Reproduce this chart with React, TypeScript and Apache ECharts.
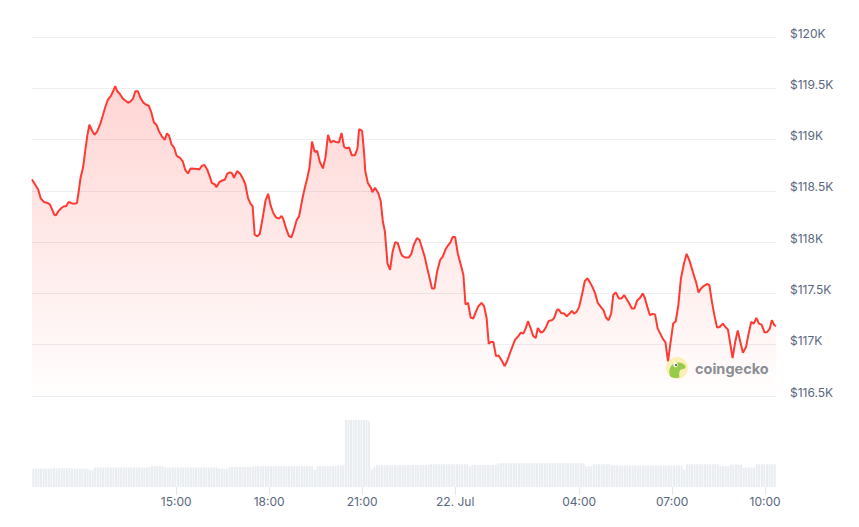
import React, { useEffect, useRef } from "react";
import * as echarts from "echarts";

// Price: minutes after the axis start (21 Jul, 10:21), 24 h window, USD
const priceMinutes = [
  0, 6, 12, 17, 23, 30, 35, 39, 43, 46, 52, 57, 62, 66, 71, 76, 81, 87, 90, 94, 99, 103, 107, 111, 116, 121, 126, 132, 137, 142,
  147, 153, 157, 161, 165, 170, 176, 181, 186, 191, 196, 200, 205, 210, 215, 221, 226, 231, 236, 241, 246, 252, 257, 261, 265,
  270, 275, 280, 286, 292, 297, 302, 307, 314, 320, 324, 329, 334, 339, 345, 348, 354, 357, 363, 368, 373, 378, 383, 387, 391,
  397, 403, 408, 413, 418, 423, 427, 431, 436, 441, 447, 452, 457, 462, 467, 472, 478, 483, 486, 492, 497, 502, 507, 512, 517,
  523, 528, 533, 537, 542, 547, 552, 557, 563, 568, 573, 578, 583, 588, 594, 599, 604, 609, 614, 619, 625, 630, 633, 639, 643,
  645, 650, 656, 659, 664, 670, 675, 679, 683, 688, 693, 698, 703, 708, 714, 717, 722, 729, 734, 739, 745, 750, 755, 760, 765,
  770, 774, 779, 784, 790, 795, 800, 805, 810, 814, 819, 824, 830, 835, 839, 844, 849, 854, 859, 864, 870, 875, 880, 884, 888,
  893, 898, 903, 908, 915, 920, 925, 930, 935, 941, 946, 951, 956, 960, 965, 970, 975, 979, 985, 990, 995, 1000, 1006, 1010,
  1016, 1019, 1024, 1030, 1035, 1040, 1045, 1049, 1054, 1059, 1065, 1070, 1075, 1080, 1085, 1090, 1095, 1101, 1106, 1111, 1116,
  1121, 1125, 1130, 1136, 1141, 1146, 1151, 1156, 1161, 1166, 1171, 1177, 1182, 1186, 1191, 1196, 1201, 1206, 1211, 1217, 1222,
  1226, 1231, 1236, 1241, 1246, 1251, 1256, 1262, 1267, 1272, 1277, 1282, 1286, 1290, 1295, 1300, 1306, 1311, 1316, 1321, 1326,
  1331, 1337, 1342, 1347, 1351, 1356, 1361, 1366, 1371, 1376, 1382, 1387, 1392, 1397, 1402, 1407, 1412, 1418, 1423, 1428, 1432,
  1437, 1440,
];
const priceValues = [
  118611, 118562, 118513, 118425, 118392, 118382, 118366, 118317, 118268, 118261, 118307, 118333, 118350, 118350, 118392, 118382,
  118373, 118382, 118480, 118627, 118732, 118889, 119036, 119144, 119091, 119046, 119078, 119150, 119232, 119320, 119389, 119428,
  119471, 119520, 119471, 119444, 119399, 119379, 119359, 119372, 119405, 119471, 119471, 119405, 119363, 119340, 119330, 119265,
  119167, 119144, 119078, 119026, 118997, 119059, 119042, 118954, 118922, 118840, 118824, 118784, 118699, 118670, 118719, 118716,
  118712, 118709, 118745, 118752, 118709, 118627, 118578, 118562, 118536, 118588, 118601, 118608, 118667, 118680, 118673, 118627,
  118693, 118667, 118621, 118562, 118431, 118373, 118350, 118072, 118056, 118082, 118252, 118406, 118471, 118356, 118284, 118242,
  118229, 118255, 118229, 118131, 118062, 118046, 118121, 118212, 118252, 118415, 118529, 118627, 118725, 118980, 118882, 118889,
  118784, 118719, 118824, 119046, 118971, 118987, 118977, 118971, 119065, 118928, 118915, 118922, 118846, 118846, 118915, 119101,
  119085, 118856, 118693, 118578, 118529, 118487, 118529, 118480, 118399, 118203, 118105, 117794, 117729, 117908, 118000, 117990,
  117892, 117866, 117850, 117850, 117882, 117974, 118039, 118023, 117941, 117859, 117745, 117640, 117549, 117549, 117712, 117827,
  117859, 117925, 117967, 117997, 118049, 118049, 117892, 117778, 117680, 117392, 117408, 117265, 117255, 117320, 117376, 117408,
  117376, 117255, 117010, 117026, 117026, 116889, 116895, 116856, 116791, 116846, 116918, 116984, 117049, 117082, 117118, 117108,
  117167, 117229, 117163, 117085, 117065, 117163, 117118, 117131, 117173, 117232, 117239, 117255, 117337, 117346, 117310, 117304,
  117278, 117301, 117330, 117304, 117320, 117369, 117500, 117621, 117647, 117608, 117559, 117500, 117408, 117369, 117337, 117265,
  117239, 117304, 117484, 117510, 117451, 117451, 117484, 117444, 117402, 117353, 117353, 117428, 117458, 117500, 117458, 117369,
  117288, 117301, 117294, 117157, 117098, 117049, 117026, 116837, 117026, 117206, 117229, 117386, 117647, 117794, 117886, 117827,
  117745, 117663, 117598, 117510, 117549, 117572, 117592, 117582, 117418, 117281, 117167, 117173, 117206, 117173, 117147, 117026,
  116869, 117026, 117140, 117026, 116922, 116977, 117108, 117222, 117206, 117261, 117206, 117196, 117118, 117124, 117157, 117239,
  117190, 117180,
];

// 24h trading volume, $B, one bar per 5 minutes
const volumeValues = [
  55, 55, 55, 55, 55, 55, 55, 55, 56, 56, 56, 56, 56, 56, 56, 55, 55, 55, 55, 55, 55, 55, 51, 51,
  58, 58, 58, 58, 58, 58, 58, 58, 58, 58, 58, 58, 58, 58, 58, 58, 58, 58, 58, 58, 58, 58, 62, 62,
  62, 62, 62, 58, 58, 58, 58, 58, 58, 58, 58, 58, 58, 58, 58, 58, 58, 58, 58, 58, 58, 58, 58, 58,
  55, 55, 55, 55, 60, 60, 60, 60, 60, 60, 60, 60, 60, 60, 62, 62, 62, 62, 62, 62, 62, 62, 62, 62,
  62, 62, 62, 62, 62, 62, 62, 62, 62, 62, 62, 62, 62, 52, 62, 62, 62, 62, 62, 62, 62, 62, 65, 65,
  65, 200, 200, 200, 200, 200, 200, 200, 200, 200, 196, 52, 60, 65, 65, 65, 65, 65, 65, 65, 65, 65, 65, 65,
  66, 66, 66, 66, 66, 66, 66, 66, 66, 66, 68, 68, 68, 68, 68, 68, 68, 68, 68, 68, 68, 68, 68, 68,
  68, 62, 66, 66, 66, 66, 66, 66, 66, 66, 66, 66, 71, 71, 71, 71, 71, 71, 71, 71, 71, 71, 71, 71,
  71, 71, 71, 71, 71, 71, 71, 71, 71, 71, 71, 71, 71, 71, 71, 71, 71, 71, 71, 71, 71, 71, 62, 62,
  62, 68, 68, 68, 68, 68, 68, 68, 65, 65, 65, 64, 64, 64, 64, 64, 64, 64, 64, 64, 64, 64, 64, 64,
  64, 64, 64, 64, 64, 64, 64, 64, 64, 64, 64, 64, 52, 68, 68, 68, 68, 68, 68, 68, 68, 68, 68, 68,
  68, 68, 62, 62, 62, 62, 67, 67, 67, 67, 67, 58, 58, 58, 58, 58, 68, 68, 68, 68, 68, 68, 68, 68,
];

// x-axis ticks (minutes after axis start) and their labels
const tickMinutes = [279, 459, 639, 819, 1059, 1239, 1419];
const tickLabels = ["15:00", "18:00", "21:00", "22. Jul", "04:00", "07:00", "10:00"];

const priceMin = 116500;
const priceMax = 120000;
const priceStep = 500;
const windowMinutes = 1440;
const barMinutes = 5;

let geckoRegistered = false;

export default function App() {
  const ref = useRef<HTMLDivElement>(null);

  useEffect(() => {
    document.body.style.margin = "0";
    if (!geckoRegistered) {
      echarts.graphic.registerShape(
        "gecko",
        echarts.graphic.extendPath(
          "M4 19 C2.5 14 3.5 8.5 8.5 6.2 C12.5 4.8 17 5.6 19.2 8.6 C20.4 10.6 18.6 12.2 16.4 12.2 C14.2 12.2 13.2 14 13.2 16.8 L13.4 20.4 C10.2 21.6 6.2 21.2 4 19 Z",
          {}
        )
      );
      geckoRegistered = true;
    }
    const chart = echarts.init(ref.current!, null, { renderer: "svg" });
    const priceData = priceMinutes.map((m, i) => [m, priceValues[i]]);
    const volumeData = volumeValues.map((v, i) => [i * barMinutes + barMinutes / 2, v]);

    chart.setOption({
      animation: false,
      textStyle: { fontFamily: "Inter, 'Noto Sans', sans-serif" },
      grid: [
        { left: 32, right: 83, top: 37, bottom: 131 },
        { left: 32, right: 83, top: 420, height: 67 },
      ],
      xAxis: [
        {
          type: "value",
          gridIndex: 0,
          min: 0,
          max: windowMinutes,
          show: false,
          splitLine: { show: false },
        },
        {
          type: "value",
          gridIndex: 1,
          min: 0,
          max: windowMinutes,
          axisLine: { show: false },
          splitLine: { show: false },
          axisTick: {
            show: true,
            customValues: tickMinutes,
            length: 8,
            lineStyle: { color: "#e3e6ea", width: 1 },
          },
          axisLabel: {
            customValues: tickMinutes,
            color: "#58667e",
            fontSize: 12,
            fontFamily: "Inter",
            margin: 8,
            formatter: (v: number) => {
              const idx = tickMinutes.indexOf(Math.round(v));
              return idx >= 0 ? tickLabels[idx] : "";
            },
          },
        },
      ],
      yAxis: [
        {
          type: "value",
          gridIndex: 0,
          position: "right",
          min: priceMin,
          max: priceMax,
          interval: priceStep,
          axisLine: { show: false },
          axisTick: { show: false },
          splitLine: { lineStyle: { color: "#eceef1", width: 1 } },
          axisLabel: {
            color: "#58667e",
            fontSize: 12,
            fontFamily: "Inter",
            margin: 14,
            align: "left",
            verticalAlign: "bottom",
            lineHeight: 8,
            formatter: (v: number) => "$" + v / 1000 + "K",
          },
        },
        {
          type: "value",
          gridIndex: 1,
          min: 0,
          max: 200,
          show: false,
          splitLine: { show: false },
        },
      ],
      series: [
        {
          type: "bar",
          xAxisIndex: 1,
          yAxisIndex: 1,
          data: volumeData,
          barWidth: 2,
          itemStyle: { color: "#e9ecf0" },
          silent: true,
        },
        {
          type: "line",
          xAxisIndex: 0,
          yAxisIndex: 0,
          data: priceData,
          symbol: "none",
          lineStyle: { color: "#ff3a33", width: 2 },
          areaStyle: {
            origin: "start",
            color: new echarts.graphic.LinearGradient(0, 0, 0, 1, [
              { offset: 0, color: "rgba(255,58,51,0.30)" },
              { offset: 1, color: "rgba(255,58,51,0.01)" },
            ]),
          },
          silent: true,
        },
      ],
      graphic: [
        {
          type: "circle",
          shape: { cx: 677, cy: 368, r: 11 },
          style: { fill: "#f9eda8", opacity: 0.85 },
          z: 100,
        },
        {
          type: "gecko",
          x: 666,
          y: 357,
          scaleX: 1,
          scaleY: 1,
          style: { fill: "#8dc63f", opacity: 0.9 },
          z: 101,
        },
        {
          type: "circle",
          shape: { cx: 675.5, cy: 365, r: 2.2 },
          style: { fill: "#ffffff" },
          z: 102,
        },
        {
          type: "circle",
          shape: { cx: 676, cy: 365, r: 1.1 },
          style: { fill: "#5a5a5a" },
          z: 103,
        },
        {
          type: "text",
          x: 695,
          y: 368,
          style: {
            text: "coingecko",
            fill: "#8a8d93",
            font: "bold 14.5px Inter, sans-serif",
            verticalAlign: "middle",
            align: "left",
          },
          z: 100,
        },
      ],
    });

    return () => chart.dispose();
  }, []);

  return <div ref={ref} style={{ width: 859, height: 527 }} />;
}
